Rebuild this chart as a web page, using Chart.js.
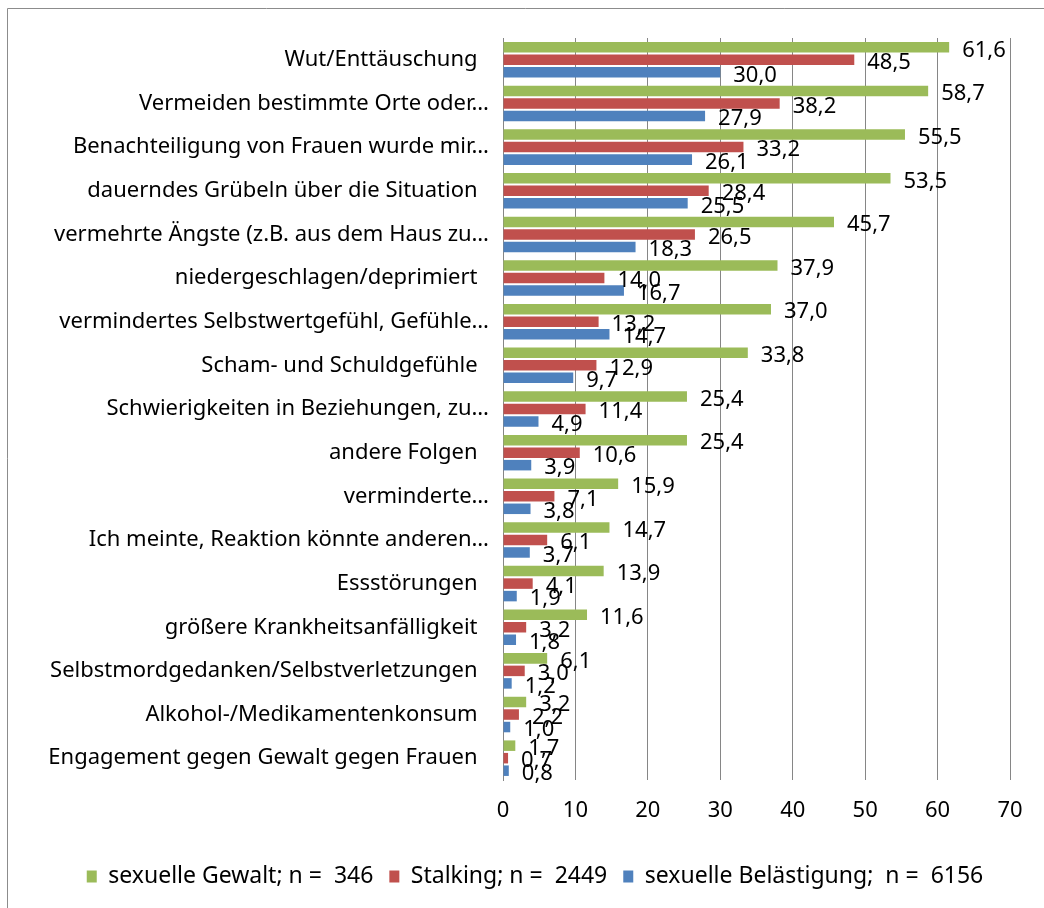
<!DOCTYPE html>
<html>
<head>
<meta charset="utf-8">
<script src="https://cdn.jsdelivr.net/npm/chart.js@4"></script>
<style>
html,body{margin:0;padding:0;background:#fff;}
#wrap{position:relative;width:1044px;height:908px;}
</style>
</head>
<body>
<div id="wrap"><canvas id="c" width="1044" height="908"></canvas></div>
<script>
const categories = [
  "Wut/Enttäuschung  ",
  "Vermeiden bestimmte Orte oder…",
  "Benachteiligung von Frauen wurde mir…",
  "dauerndes Grübeln über die Situation  ",
  "vermehrte Ängste (z.B. aus dem Haus zu…",
  "niedergeschlagen/deprimiert  ",
  "vermindertes Selbstwertgefühl, Gefühle…",
  "Scham- und Schuldgefühle  ",
  "Schwierigkeiten in Beziehungen, zu…",
  "andere Folgen  ",
  "verminderte…",
  "Ich meinte, Reaktion könnte anderen…",
  "Essstörungen  ",
  "größere Krankheitsanfälligkeit  ",
  "Selbstmordgedanken/Selbstverletzungen  ",
  "Alkohol-/Medikamentenkonsum  ",
  "Engagement gegen Gewalt gegen Frauen  "
];
const seriesNames = ["sexuelle Gewalt; n =  346", "Stalking; n =  2449", "sexuelle Belästigung;  n =  6156"];
const sexuelleGewalt = [61.6, 58.7, 55.5, 53.5, 45.7, 37.9, 37.0, 33.8, 25.4, 25.4, 15.9, 14.7, 13.9, 11.6, 6.1, 3.2, 1.7];
const stalking = [48.5, 38.2, 33.2, 28.4, 26.5, 14.0, 13.2, 12.9, 11.4, 10.6, 7.1, 6.1, 4.1, 3.2, 3.0, 2.2, 0.7];
const belaestigung = [30.0, 27.9, 26.1, 25.5, 18.3, 16.7, 14.7, 9.7, 4.9, 3.9, 3.8, 3.7, 1.9, 1.8, 1.2, 1.0, 0.8];
const xTicks = [0, 10, 20, 30, 40, 50, 60, 70];
const colors = ["#9BBB59", "#C0504D", "#4F81BD"];

const FONT = "Noto Sans";
const FS = 22;

const frame = {
  id: "frame",
  beforeDraw(chart) {
    const ctx = chart.ctx;
    ctx.save();
    ctx.strokeStyle = "#8c8c8c";
    ctx.lineWidth = 1;
    ctx.beginPath();
    ctx.moveTo(7.5, 908);
    ctx.lineTo(7.5, 8.5);
    ctx.lineTo(1044, 8.5);
    ctx.stroke();
    ctx.restore();
  }
};

const legendShift = {
  id: "legendShift",
  afterLayout(chart) {
    if (chart.legend) { chart.legend.left += 50; }
  }
};

const valueLabels = {
  id: "valueLabels",
  afterDatasetsDraw(chart) {
    const ctx = chart.ctx;
    ctx.save();
    ctx.font = FS + "px '" + FONT + "'";
    ctx.fillStyle = "#000";
    ctx.textAlign = "left";
    ctx.textBaseline = "middle";
    chart.data.datasets.forEach((ds, di) => {
      const meta = chart.getDatasetMeta(di);
      meta.data.forEach((bar, i) => {
        const v = ds.data[i];
        const txt = v.toFixed(1).replace(".", ",");
        ctx.fillText(txt, bar.x + 13, bar.y + 3);
      });
    });
    ctx.restore();
  }
};

new Chart(document.getElementById("c"), {
  type: "bar",
  data: {
    labels: categories,
    datasets: [
      { label: seriesNames[0], data: sexuelleGewalt, backgroundColor: colors[0] },
      { label: seriesNames[1], data: stalking, backgroundColor: colors[1] },
      { label: seriesNames[2], data: belaestigung, backgroundColor: colors[2] }
    ]
  },
  options: {
    indexAxis: "y",
    responsive: false,
    animation: false,
    devicePixelRatio: 1,
    layout: { padding: { left: 10, top: 38, right: 34, bottom: 10 } },
    datasets: { bar: { categoryPercentage: 0.86, barPercentage: 0.84 } },
    scales: {
      x: {
        min: 0, max: 70,
        afterBuildTicks(scale) { scale.ticks = xTicks.map(v => ({ value: v })); },
        grid: { color: "#868686", drawTicks: false },
        border: { display: false },
        ticks: { color: "#000", font: { family: FONT, size: FS }, padding: 18 },
        afterFit(scale) { scale.height = 69; }
      },
      y: {
        grid: { display: false },
        border: { display: true, color: "#868686" },
        ticks: { color: "#000", font: { family: FONT, size: FS }, autoSkip: false, padding: 6 },
        afterFit(scale) { scale.width = 493; }
      }
    },
    plugins: {
      legend: {
        position: "bottom",
        labels: { color: "#000", font: { family: FONT, size: 23 }, boxWidth: 10, boxHeight: 12, padding: 16 }
      },
      tooltip: { enabled: false }
    }
  },
  plugins: [frame, legendShift, valueLabels]
});
</script>
</body>
</html>
